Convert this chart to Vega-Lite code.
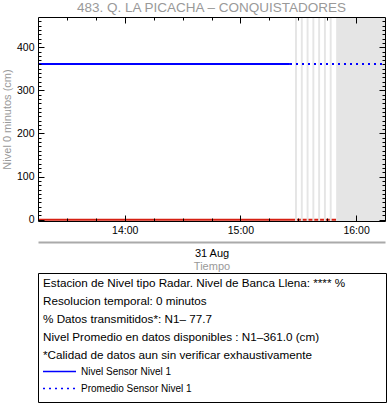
{
  "$schema": "https://vega.github.io/schema/vega-lite/v6.json",
  "padding": {"left": 1, "top": 1, "right": 0, "bottom": 0},
  "bounds": "flush",
  "spacing": 52,
  "config": {
    "font": "Liberation Sans",
    "view": {"stroke": null},
    "axis": {"grid": false, "labelColor": "#000000", "domainColor": "#000000", "tickColor": "#000000", "labelFontSize": 10.5, "titleFontWeight": "normal", "titleFontSize": 11, "titleColor": "#999999", "domainWidth": 1, "tickWidth": 1}
  },
  "datasets": {
    "ref": [
      {"t": "2024-08-31T13:15:00", "v": 0},
      {"t": "2024-08-31T15:49:40", "v": 0}
    ],
    "gaps": [
      {"start": "2024-08-31T15:28:20", "end": "2024-08-31T15:29:20"},
      {"start": "2024-08-31T15:31:20", "end": "2024-08-31T15:32:20"},
      {"start": "2024-08-31T15:34:20", "end": "2024-08-31T15:35:20"},
      {"start": "2024-08-31T15:37:20", "end": "2024-08-31T15:38:20"},
      {"start": "2024-08-31T15:40:20", "end": "2024-08-31T15:41:20"},
      {"start": "2024-08-31T15:43:20", "end": "2024-08-31T15:44:20"},
      {"start": "2024-08-31T15:46:20", "end": "2024-08-31T15:47:20"},
      {"start": "2024-08-31T15:49:40", "end": "2024-08-31T16:15:00"}
    ],
    "prom": [
      {"t": "2024-08-31T13:15:00", "v": 361.0, "serie": "Promedio Sensor Nivel 1"},
      {"t": "2024-08-31T16:15:00", "v": 361.0, "serie": "Promedio Sensor Nivel 1"}
    ],
    "nivel": [
      {"t": "2024-08-31T13:15:00", "v": 361, "serie": "Nivel Sensor Nivel 1"},
      {"t": "2024-08-31T13:30:00", "v": 361, "serie": "Nivel Sensor Nivel 1"},
      {"t": "2024-08-31T13:45:00", "v": 361, "serie": "Nivel Sensor Nivel 1"},
      {"t": "2024-08-31T14:00:00", "v": 361, "serie": "Nivel Sensor Nivel 1"},
      {"t": "2024-08-31T14:15:00", "v": 361, "serie": "Nivel Sensor Nivel 1"},
      {"t": "2024-08-31T14:30:00", "v": 361, "serie": "Nivel Sensor Nivel 1"},
      {"t": "2024-08-31T14:45:00", "v": 361, "serie": "Nivel Sensor Nivel 1"},
      {"t": "2024-08-31T15:00:00", "v": 361, "serie": "Nivel Sensor Nivel 1"},
      {"t": "2024-08-31T15:15:00", "v": 361, "serie": "Nivel Sensor Nivel 1"},
      {"t": "2024-08-31T15:25:40", "v": 361, "serie": "Nivel Sensor Nivel 1"}
    ],
    "info": [
      {"line": 1, "text": "Estacion de Nivel tipo Radar. Nivel de Banca Llena: **** %"},
      {"line": 2, "text": "Resolucion temporal: 0 minutos"},
      {"line": 3, "text": "% Datos transmitidos*: N1\u2013 77.7"},
      {"line": 4, "text": "Nivel Promedio en datos disponibles : N1\u2013361.0 (cm)"},
      {"line": 5, "text": "*Calidad de datos aun sin verificar exhaustivamente"}
    ]
  },
  "vconcat": [
    {
      "width": 347,
      "height": 204,
      "title": {"text": "483. Q. LA PICACHA \u2013 CONQUISTADORES", "color": "#999999", "fontSize": 13.5, "fontWeight": "normal", "offset": 2},
      "resolve": {"axis": {"x": "independent", "y": "independent"}},
      "layer": [
        {
          "data": {"name": "ref"},
          "mark": {"type": "line", "color": "#d62012", "strokeWidth": 2},
          "encoding": {
            "x": {"field": "t", "type": "temporal",
              "scale": {"nice": false, "domain": [{"year": 2024, "month": 8, "date": 31, "hours": 13, "minutes": 15}, {"year": 2024, "month": 8, "date": 31, "hours": 16, "minutes": 15}]},
              "axis": {"orient": "bottom", "format": "%H:%M", "ticks": false, "domain": false, "labelPadding": 4, "labelFlush": false, "title": null,
                "values": [{"year": 2024, "month": 8, "date": 31, "hours": 14, "minutes": 0}, {"year": 2024, "month": 8, "date": 31, "hours": 15, "minutes": 0}, {"year": 2024, "month": 8, "date": 31, "hours": 16, "minutes": 0}]}},
            "y": {"field": "v", "type": "quantitative",
              "scale": {"domain": [-3, 470], "nice": false, "zero": false},
              "axis": {"orient": "left", "values": [0, 100, 200, 300, 400], "ticks": false, "domain": false, "labelPadding": 4, "title": "Nivel 0 minutos (cm)", "titlePadding": 4}}
          }
        },
        {
          "data": {"name": "gaps"},
          "mark": {"type": "rect", "color": "#e5e5e5"},
          "encoding": {
            "x": {"field": "start", "type": "temporal",
              "scale": {"nice": false, "domain": [{"year": 2024, "month": 8, "date": 31, "hours": 13, "minutes": 15}, {"year": 2024, "month": 8, "date": 31, "hours": 16, "minutes": 15}]},
              "axis": {"orient": "bottom", "offset": 21, "domainColor": "#aaaaaa", "domainWidth": 2, "ticks": false, "labels": false, "title": "31 Aug", "titleColor": "#000000", "titlePadding": 5, "titleFontSize": 11}},
            "x2": {"field": "end"}
          }
        },
        {
          "data": {"name": "prom"},
          "mark": {"type": "line", "color": "#0000ff", "strokeWidth": 2},
          "encoding": {
            "x": {"field": "t", "type": "temporal",
              "scale": {"nice": false, "domain": [{"year": 2024, "month": 8, "date": 31, "hours": 13, "minutes": 15}, {"year": 2024, "month": 8, "date": 31, "hours": 16, "minutes": 15}]},
              "axis": {"orient": "top", "labels": false, "title": null, "zindex": 1,
                "tickSize": {"condition": {"test": "minutes(datum.value) === 0", "value": -6}, "value": -3},
                "values": [
                  {"year": 2024, "month": 8, "date": 31, "hours": 13, "minutes": 30}, {"year": 2024, "month": 8, "date": 31, "hours": 13, "minutes": 45},
                  {"year": 2024, "month": 8, "date": 31, "hours": 14, "minutes": 0}, {"year": 2024, "month": 8, "date": 31, "hours": 14, "minutes": 15},
                  {"year": 2024, "month": 8, "date": 31, "hours": 14, "minutes": 30}, {"year": 2024, "month": 8, "date": 31, "hours": 14, "minutes": 45},
                  {"year": 2024, "month": 8, "date": 31, "hours": 15, "minutes": 0}, {"year": 2024, "month": 8, "date": 31, "hours": 15, "minutes": 15},
                  {"year": 2024, "month": 8, "date": 31, "hours": 15, "minutes": 30}, {"year": 2024, "month": 8, "date": 31, "hours": 15, "minutes": 45},
                  {"year": 2024, "month": 8, "date": 31, "hours": 16, "minutes": 0}]}},
            "y": {"field": "v", "type": "quantitative",
              "scale": {"domain": [-3, 470], "nice": false, "zero": false},
              "axis": {"orient": "right", "labels": false, "title": null, "zindex": 1,
                "tickSize": {"condition": {"test": "datum.value % 100 === 0", "value": -6}, "value": -3},
                "values": [0, 10, 20, 30, 40, 50, 60, 70, 80, 90, 100, 110, 120, 130, 140, 150, 160, 170, 180, 190, 200, 210, 220, 230, 240, 250, 260, 270, 280, 290, 300, 310, 320, 330, 340, 350, 360, 370, 380, 390, 400, 410, 420, 430, 440, 450, 460]}},
            "strokeDash": {"field": "serie", "type": "nominal",
              "scale": {"domain": ["Nivel Sensor Nivel 1", "Promedio Sensor Nivel 1"], "range": [[1, 0], [2, 4]]},
              "legend": {"orient": "none", "legendX": 4, "legendY": 346, "title": null, "symbolType": "stroke", "symbolSize": 1089, "symbolStrokeWidth": 1.5, "symbolStrokeColor": "#0000ff", "labelFontSize": 10, "labelColor": "#000000", "clipHeight": 17, "rowPadding": 0, "padding": 0, "labelOffset": 4}}
          }
        },
        {
          "data": {"name": "nivel"},
          "mark": {"type": "line", "color": "#0000ff", "strokeWidth": 2},
          "encoding": {
            "x": {"field": "t", "type": "temporal",
              "scale": {"nice": false, "domain": [{"year": 2024, "month": 8, "date": 31, "hours": 13, "minutes": 15}, {"year": 2024, "month": 8, "date": 31, "hours": 16, "minutes": 15}]},
              "axis": {"orient": "bottom", "labels": false, "title": null, "zindex": 1,
                "tickSize": {"condition": {"test": "minutes(datum.value) === 0", "value": -6}, "value": -3},
                "values": [
                  {"year": 2024, "month": 8, "date": 31, "hours": 13, "minutes": 30}, {"year": 2024, "month": 8, "date": 31, "hours": 13, "minutes": 45},
                  {"year": 2024, "month": 8, "date": 31, "hours": 14, "minutes": 0}, {"year": 2024, "month": 8, "date": 31, "hours": 14, "minutes": 15},
                  {"year": 2024, "month": 8, "date": 31, "hours": 14, "minutes": 30}, {"year": 2024, "month": 8, "date": 31, "hours": 14, "minutes": 45},
                  {"year": 2024, "month": 8, "date": 31, "hours": 15, "minutes": 0}, {"year": 2024, "month": 8, "date": 31, "hours": 15, "minutes": 15},
                  {"year": 2024, "month": 8, "date": 31, "hours": 15, "minutes": 30}, {"year": 2024, "month": 8, "date": 31, "hours": 15, "minutes": 45},
                  {"year": 2024, "month": 8, "date": 31, "hours": 16, "minutes": 0}]}},
            "y": {"field": "v", "type": "quantitative",
              "scale": {"domain": [-3, 470], "nice": false, "zero": false},
              "axis": {"orient": "left", "labels": false, "title": null, "zindex": 1,
                "tickSize": {"condition": {"test": "datum.value % 100 === 0", "value": -6}, "value": -3},
                "values": [0, 10, 20, 30, 40, 50, 60, 70, 80, 90, 100, 110, 120, 130, 140, 150, 160, 170, 180, 190, 200, 210, 220, 230, 240, 250, 260, 270, 280, 290, 300, 310, 320, 330, 340, 350, 360, 370, 380, 390, 400, 410, 420, 430, 440, 450, 460]}},
            "strokeDash": {"field": "serie", "type": "nominal",
              "scale": {"domain": ["Nivel Sensor Nivel 1", "Promedio Sensor Nivel 1"], "range": [[1, 0], [2, 4]]},
              "legend": {"orient": "none", "legendX": 4, "legendY": 346, "title": null, "symbolType": "stroke", "symbolSize": 1089, "symbolStrokeWidth": 1.5, "symbolStrokeColor": "#0000ff", "labelFontSize": 10, "labelColor": "#000000", "clipHeight": 17, "rowPadding": 0, "padding": 0, "labelOffset": 4}}
          }
        }
      ]
    },
    {
      "width": 348,
      "height": 129,
      "view": {"stroke": "#000000", "strokeWidth": 1},
      "title": {"text": "Tiempo", "color": "#999999", "fontSize": 11, "fontWeight": "normal", "offset": 1},
      "data": {"name": "info"},
      "mark": {"type": "text", "align": "left", "baseline": "middle", "fontSize": 11.7, "dx": 5, "color": "#000000"},
      "encoding": {
        "x": {"datum": 0, "type": "quantitative", "scale": {"domain": [0, 1]}, "axis": null},
        "y": {"field": "line", "type": "quantitative", "scale": {"domain": [0.45, 7.6], "reverse": true}, "axis": null},
        "text": {"field": "text"}
      }
    }
  ]
}
